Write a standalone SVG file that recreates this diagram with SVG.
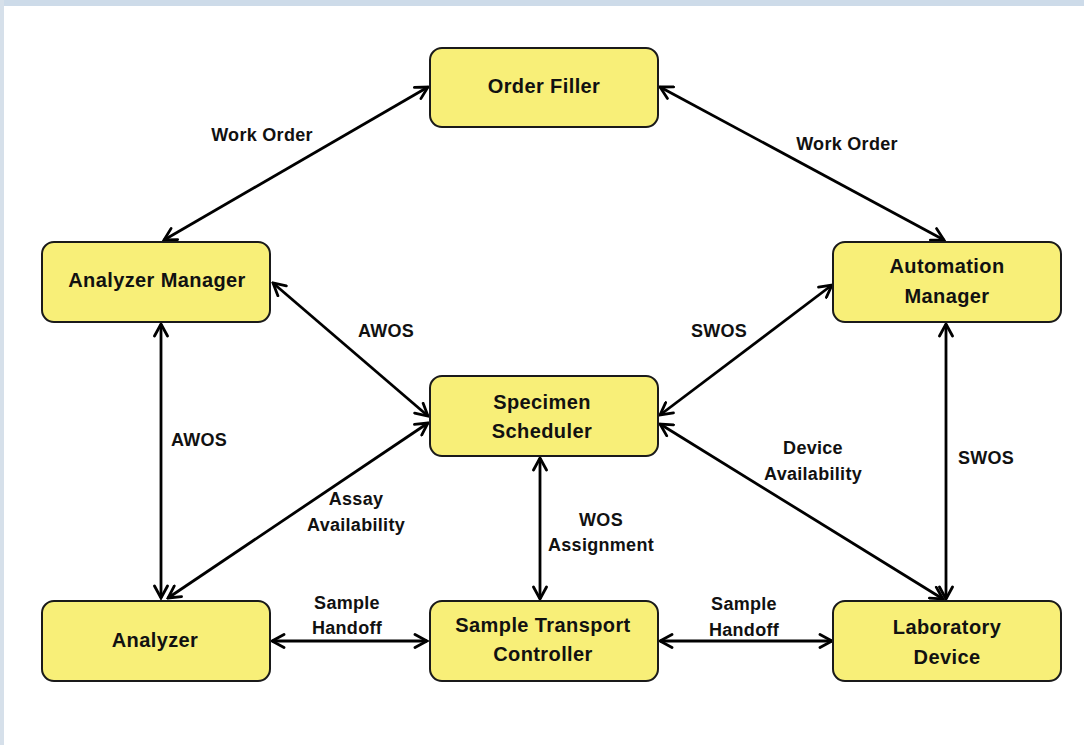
<svg xmlns="http://www.w3.org/2000/svg" width="1084" height="745" viewBox="0 0 1084 745">
<defs>
<marker id="arr" viewBox="0 0 16 16" refX="14" refY="8" markerWidth="16" markerHeight="16" markerUnits="userSpaceOnUse" orient="auto-start-reverse">
<path d="M2,1.5 L14,8 L2,14.5" fill="none" stroke="#000" stroke-width="2.8" stroke-linecap="round" stroke-linejoin="miter"/>
</marker>
<style>
.node rect{fill:#F8EF78;stroke:#1a1a1a;stroke-width:2}
.node text{font-family:"Liberation Sans",Arial,sans-serif;font-weight:bold;font-size:20px;fill:#111;text-anchor:middle;letter-spacing:0.4px}
.conn line{stroke:#000;stroke-width:2.8;marker-start:url(#arr);marker-end:url(#arr)}
.lbl{font-family:"Liberation Sans",Arial,sans-serif;font-weight:bold;font-size:18px;fill:#111;text-anchor:middle;letter-spacing:0.3px}
</style>
</defs>
<rect x="0" y="0" width="1084" height="745" fill="#ffffff"/>
<rect x="0" y="0" width="1084" height="6" fill="#cddbe9"/>
<rect x="0" y="0" width="4" height="745" fill="#d6e0ea"/>

<g id="connectors" class="conn">
<line x1="428" y1="87" x2="164" y2="240"/>
<line x1="660" y1="87" x2="944" y2="240"/>
<line x1="273" y1="283" x2="428" y2="416"/>
<line x1="832" y1="285" x2="660" y2="415"/>
<line x1="660" y1="424" x2="943" y2="599"/>
<line x1="161" y1="324" x2="161" y2="598"/>
<line x1="428" y1="423" x2="168" y2="598"/>
<line x1="946" y1="324" x2="946" y2="599"/>
<line x1="540" y1="458" x2="540" y2="599"/>
<line x1="272" y1="641" x2="427" y2="641"/>
<line x1="660" y1="641" x2="832" y2="641"/>
</g>

<g id="labels">
<text class="lbl" x="262" y="141">Work Order</text>
<text class="lbl" x="847" y="150">Work Order</text>
<text class="lbl" x="386" y="337">AWOS</text>
<text class="lbl" x="719" y="337">SWOS</text>
<text class="lbl" x="199" y="446">AWOS</text>
<text class="lbl" x="986" y="464">SWOS</text>
<text class="lbl" x="356" y="505">Assay</text>
<text class="lbl" x="356" y="531">Availability</text>
<text class="lbl" x="813" y="454">Device</text>
<text class="lbl" x="813" y="480">Availability</text>
<text class="lbl" x="601" y="526">WOS</text>
<text class="lbl" x="601" y="551">Assignment</text>
<text class="lbl" x="347" y="609">Sample</text>
<text class="lbl" x="347" y="634">Handoff</text>
<text class="lbl" x="744" y="610">Sample</text>
<text class="lbl" x="744" y="636">Handoff</text>
</g>

<g id="order-filler" class="node">
<rect x="430" y="48" width="228" height="79" rx="12"/>
<text x="544" y="93">Order Filler</text>
</g>
<g id="analyzer-manager" class="node">
<rect x="42" y="242" width="228" height="80" rx="12"/>
<text x="157" y="287">Analyzer Manager</text>
</g>
<g id="automation-manager" class="node">
<rect x="833" y="242" width="228" height="80" rx="12"/>
<text x="947" y="273">Automation</text>
<text x="947" y="303">Manager</text>
</g>
<g id="specimen-scheduler" class="node">
<rect x="430" y="376" width="228" height="80" rx="12"/>
<text x="542" y="409">Specimen</text>
<text x="542" y="438">Scheduler</text>
</g>
<g id="analyzer" class="node">
<rect x="42" y="601" width="228" height="80" rx="12"/>
<text x="155" y="647">Analyzer</text>
</g>
<g id="sample-transport-controller" class="node">
<rect x="430" y="601" width="228" height="80" rx="12"/>
<text x="543" y="632">Sample Transport</text>
<text x="543" y="661">Controller</text>
</g>
<g id="laboratory-device" class="node">
<rect x="833" y="601" width="228" height="80" rx="12"/>
<text x="947" y="634">Laboratory</text>
<text x="947" y="664">Device</text>
</g>
</svg>
